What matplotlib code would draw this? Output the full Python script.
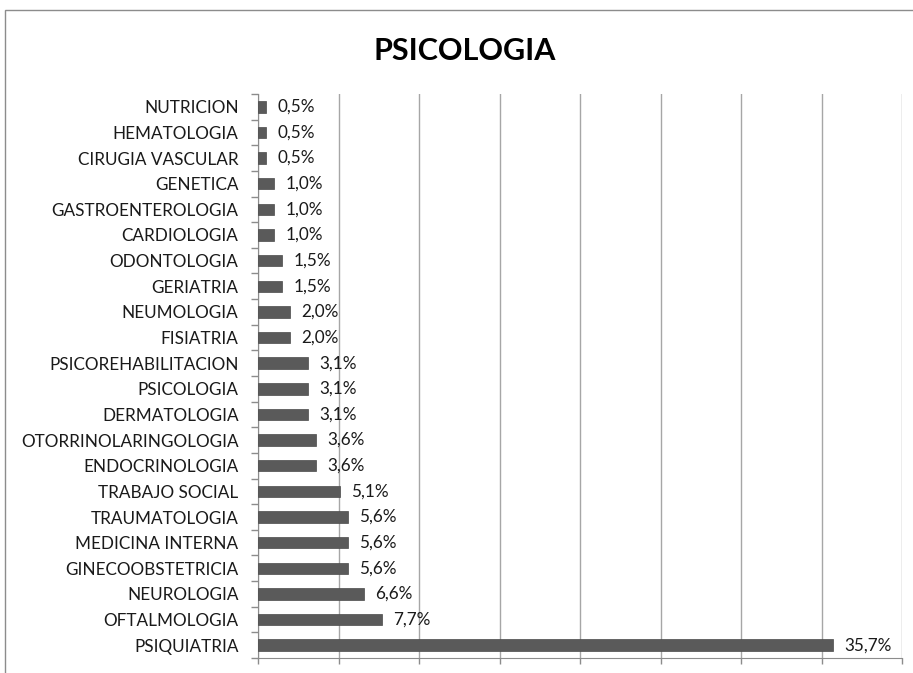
import matplotlib
matplotlib.use("Agg")
import matplotlib.pyplot as plt
from matplotlib.patches import Rectangle
import numpy as np

title = "PSICOLOGIA"
categories = ["NUTRICION", "HEMATOLOGIA", "CIRUGIA VASCULAR", "GENETICA",
              "GASTROENTEROLOGIA", "CARDIOLOGIA", "ODONTOLOGIA", "GERIATRIA",
              "NEUMOLOGIA", "FISIATRIA", "PSICOREHABILITACION", "PSICOLOGIA",
              "DERMATOLOGIA", "OTORRINOLARINGOLOGIA", "ENDOCRINOLOGIA",
              "TRABAJO SOCIAL", "TRAUMATOLOGIA", "MEDICINA INTERNA",
              "GINECOOBSTETRICIA", "NEUROLOGIA", "OFTALMOLOGIA", "PSIQUIATRIA"]
values = [0.5, 0.5, 0.5, 1.0, 1.0, 1.0, 1.5, 1.5, 2.0, 2.0, 3.1, 3.1, 3.1,
          3.6, 3.6, 5.1, 5.6, 5.6, 5.6, 6.6, 7.7, 35.7]

W, H = 913, 673
fig = plt.figure(figsize=(W / 100, H / 100), dpi=100)
fig.patch.set_facecolor("white")

# outer chart border (partially cropped)
fig.patches.append(Rectangle((5 / W, -0.1), 1.2, 1 - 10 / H + 0.1,
                             transform=fig.transFigure, fill=False,
                             edgecolor="#8c8c8c", linewidth=1.0))

ax = fig.add_axes([258 / W, 1 - 658 / H, (902 - 258) / W, (658 - 94) / H])
n = len(categories)
y = np.arange(n)
ax.barh(y, values, height=0.45, color="#5a5a5a", edgecolor="#4a4a4a", linewidth=0.5, zorder=3)
ax.set_ylim(n - 0.5, -0.5)
ax.set_xlim(0, 40)
ax.set_xticks(np.arange(0, 41, 5))
ax.set_xticklabels([])
ax.grid(axis="x", color="#a6a6a6", linewidth=1.0, zorder=0)
ax.set_yticks(y)
ax.set_yticklabels(categories, fontfamily="Lato", fontsize=12.3, color="#1a1a1a")
ax.set_yticks(np.arange(-0.5, n, 1), minor=True)
ax.tick_params(axis="y", which="major", length=0, pad=14)
ax.tick_params(axis="y", which="minor", length=5, color="#8c8c8c", width=1)
ax.tick_params(axis="x", which="major", length=4, color="#8c8c8c", width=1)
for s in ["top", "right"]:
    ax.spines[s].set_visible(False)
for s in ["left", "bottom"]:
    ax.spines[s].set_color("#8c8c8c")

for yi, v in zip(y, values):
    ax.annotate(f"{v:.1f}%".replace(".", ","), (v, yi), xytext=(8, 0),
                textcoords="offset points", va="center", ha="left",
                fontfamily="Lato", fontsize=12.3, color="#1a1a1a")

fig.text(465 / W, 1 - 51 / H, title, ha="center", va="center",
         fontfamily="Lato", fontweight="bold", fontsize=22, color="black")

fig.savefig("out.png", dpi=100)
